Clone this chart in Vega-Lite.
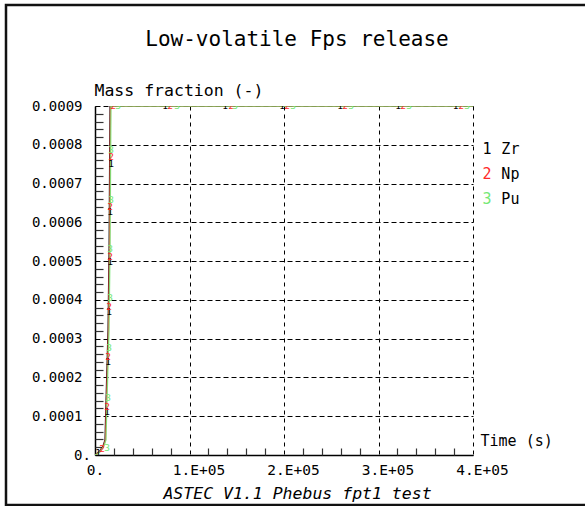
{
  "$schema": "https://vega.github.io/schema/vega-lite/v6.json",
  "autosize": {"type": "none"},
  "width": 378,
  "height": 349,
  "padding": {"left": 95, "top": 106, "right": 112, "bottom": 51},
  "background": "#ffffff",
  "config": {
    "view": {"stroke": null},
    "text": {"font": "DejaVu Sans Mono"}
  },
  "title": {
    "text": "Low-volatile Fps release",
    "anchor": "middle",
    "frame": "group",
    "orient": "top",
    "font": "DejaVu Sans Mono",
    "fontSize": 21,
    "fontWeight": "normal",
    "color": "#000000",
    "baseline": "alphabetic",
    "offset": 0,
    "dx": 13,
    "dy": 63
  },
  "datasets": {
    "frame": [
      {"x1": -94180, "x2": 520000, "y1": 0.0011605, "y2": -0.00012894}
    ],
    "curves": [
      {"series": "Zr", "t": 0, "v": 0},
      {"series": "Zr", "t": 1100, "v": 0.0000026},
      {"series": "Zr", "t": 4200, "v": 0.0000077},
      {"series": "Zr", "t": 8500, "v": 0.0000232},
      {"series": "Zr", "t": 10600, "v": 0.0000387},
      {"series": "Zr", "t": 11700, "v": 0.000142},
      {"series": "Zr", "t": 13800, "v": 0.000322},
      {"series": "Zr", "t": 14900, "v": 0.000529},
      {"series": "Zr", "t": 15900, "v": 0.0009},
      {"series": "Zr", "t": 400000, "v": 0.0009},
      {"series": "Np", "t": 0, "v": 0},
      {"series": "Np", "t": 1600, "v": 0.0000026},
      {"series": "Np", "t": 4700, "v": 0.0000077},
      {"series": "Np", "t": 9000, "v": 0.0000232},
      {"series": "Np", "t": 11100, "v": 0.0000387},
      {"series": "Np", "t": 12200, "v": 0.000142},
      {"series": "Np", "t": 14300, "v": 0.000322},
      {"series": "Np", "t": 15400, "v": 0.000529},
      {"series": "Np", "t": 16400, "v": 0.0009},
      {"series": "Np", "t": 400000, "v": 0.0009},
      {"series": "Pu", "t": 0, "v": 0},
      {"series": "Pu", "t": 2100, "v": 0.0000026},
      {"series": "Pu", "t": 5200, "v": 0.0000077},
      {"series": "Pu", "t": 9500, "v": 0.0000232},
      {"series": "Pu", "t": 11600, "v": 0.0000387},
      {"series": "Pu", "t": 12700, "v": 0.000142},
      {"series": "Pu", "t": 14800, "v": 0.000322},
      {"series": "Pu", "t": 15900, "v": 0.000529},
      {"series": "Pu", "t": 16900, "v": 0.0009},
      {"series": "Pu", "t": 400000, "v": 0.0009}
    ],
    "markers": [
      {"series": "Zr", "label": "1", "t": 3175, "v": 0.0000052},
      {"series": "Zr", "label": "1", "t": 12698, "v": 0.000111},
      {"series": "Zr", "label": "1", "t": 13757, "v": 0.00024},
      {"series": "Zr", "label": "1", "t": 14815, "v": 0.000369},
      {"series": "Zr", "label": "1", "t": 15873, "v": 0.000498},
      {"series": "Zr", "label": "1", "t": 15873, "v": 0.000627},
      {"series": "Zr", "label": "1", "t": 16931, "v": 0.00075},
      {"series": "Zr", "label": "1", "t": 74074, "v": 0.0009},
      {"series": "Zr", "label": "1", "t": 137566, "v": 0.0009},
      {"series": "Zr", "label": "1", "t": 197884, "v": 0.0009},
      {"series": "Zr", "label": "1", "t": 259259, "v": 0.0009},
      {"series": "Zr", "label": "1", "t": 320635, "v": 0.0009},
      {"series": "Zr", "label": "1", "t": 381481, "v": 0.0009},
      {"series": "Np", "label": "2", "t": 7407, "v": 0.0000155},
      {"series": "Np", "label": "2", "t": 12698, "v": 0.000124},
      {"series": "Np", "label": "2", "t": 13757, "v": 0.000253},
      {"series": "Np", "label": "2", "t": 14815, "v": 0.000382},
      {"series": "Np", "label": "2", "t": 15873, "v": 0.000511},
      {"series": "Np", "label": "2", "t": 15873, "v": 0.00064},
      {"series": "Np", "label": "2", "t": 16931, "v": 0.000768},
      {"series": "Np", "label": "2", "t": 19048, "v": 0.0009},
      {"series": "Np", "label": "2", "t": 79365, "v": 0.0009},
      {"series": "Np", "label": "2", "t": 143915, "v": 0.0009},
      {"series": "Np", "label": "2", "t": 203175, "v": 0.0009},
      {"series": "Np", "label": "2", "t": 264550, "v": 0.0009},
      {"series": "Np", "label": "2", "t": 325926, "v": 0.0009},
      {"series": "Np", "label": "2", "t": 387302, "v": 0.0009},
      {"series": "Pu", "label": "3", "t": 12698, "v": 0.0000181},
      {"series": "Pu", "label": "3", "t": 13757, "v": 0.000147},
      {"series": "Pu", "label": "3", "t": 14815, "v": 0.000276},
      {"series": "Pu", "label": "3", "t": 15873, "v": 0.000405},
      {"series": "Pu", "label": "3", "t": 15873, "v": 0.000531},
      {"series": "Pu", "label": "3", "t": 16931, "v": 0.000658},
      {"series": "Pu", "label": "3", "t": 16931, "v": 0.000787},
      {"series": "Pu", "label": "3", "t": 24339, "v": 0.0009},
      {"series": "Pu", "label": "3", "t": 86772, "v": 0.0009},
      {"series": "Pu", "label": "3", "t": 148148, "v": 0.0009},
      {"series": "Pu", "label": "3", "t": 209524, "v": 0.0009},
      {"series": "Pu", "label": "3", "t": 270899, "v": 0.0009},
      {"series": "Pu", "label": "3", "t": 332275, "v": 0.0009},
      {"series": "Pu", "label": "3", "t": 393651, "v": 0.0009}
    ],
    "legend": [
      {"series": "Zr", "num": "1", "name": "Zr", "t": 414815, "tName": 430000, "v": 0.000789},
      {"series": "Np", "num": "2", "name": "Np", "t": 414815, "tName": 430000, "v": 0.000725},
      {"series": "Pu", "num": "3", "name": "Pu", "t": 414815, "tName": 430000, "v": 0.00066}
    ]
  },
  "resolve": {"axis": {"x": "independent", "y": "independent"}},
  "layer": [
    {
      "data": {"name": "frame"},
      "mark": {"type": "rect", "filled": false, "stroke": "#111111", "strokeWidth": 2.5, "clip": false},
      "encoding": {
        "x": {"field": "x1", "type": "quantitative", "scale": {"domain": [0, 400000], "nice": false, "zero": false}, "axis": null},
        "x2": {"field": "x2"},
        "y": {"field": "y1", "type": "quantitative", "scale": {"domain": [0, 0.0009], "nice": false, "zero": false}, "axis": null},
        "y2": {"field": "y2"}
      }
    },
    {
      "data": {"name": "curves"},
      "mark": {"type": "line", "strokeWidth": 1.3, "opacity": 0.85, "clip": true},
      "encoding": {
        "x": {
          "field": "t", "type": "quantitative",
          "scale": {"domain": [0, 400000], "nice": false, "zero": false},
          "axis": {
            "orient": "bottom",
            "values": [0, 100000, 200000, 300000, 400000],
            "grid": true, "gridColor": "#000000", "gridDash": [4, 4], "gridWidth": 1, "gridOpacity": 1,
            "ticks": false,
            "domain": true, "domainColor": "#000000", "domainWidth": 1.5,
            "labelExpr": "datum.value == 0 ? '0.' : (datum.value / 100000) + '.E+05'",
            "labelFont": "DejaVu Sans Mono", "labelFontSize": 14.5, "labelColor": "#000000",
            "labelAlign": "center", "labelBaseline": "alphabetic", "labelPadding": 19,
            "labelOffset": {"condition": {"test": "datum.value == 0", "value": 0}, "value": 9},
            "labelFlush": false, "labelOverlap": false, "labelBound": false,
            "title": "ASTEC V1.1 Phebus fpt1 test",
            "titleFont": "DejaVu Sans Mono", "titleFontStyle": "italic", "titleFontSize": 16.5, "titleFontWeight": "normal",
            "titleColor": "#000000", "titleX": 202, "titleY": 43, "titleAlign": "center", "titleBaseline": "alphabetic"
          }
        },
        "y": {
          "field": "v", "type": "quantitative",
          "scale": {"domain": [0, 0.0009], "nice": false, "zero": false},
          "axis": {
            "orient": "left",
            "values": [0, 0.0001, 0.0002, 0.0003, 0.0004, 0.0005, 0.0006, 0.0007, 0.0008, 0.0009],
            "grid": true, "gridColor": "#000000", "gridDash": [5, 3], "gridWidth": 1, "gridOpacity": 1,
            "ticks": false,
            "domain": true, "domainColor": "#000000", "domainWidth": 1.5,
            "labelExpr": "datum.value == 0 ? '0.' : format(datum.value, '.4f')",
            "labelFont": "DejaVu Sans Mono", "labelFontSize": 14, "labelColor": "#000000",
            "labelAlign": {"condition": {"test": "datum.value == 0", "value": "center"}, "value": "right"},
            "labelBaseline": "middle", "labelPadding": 13,
            "labelFlush": false, "labelOverlap": false, "labelBound": false,
            "title": "Mass fraction (-)",
            "titleFont": "DejaVu Sans Mono", "titleFontSize": 16.5, "titleFontWeight": "normal", "titleColor": "#000000",
            "titleAngle": 0, "titleAlign": "left", "titleBaseline": "alphabetic", "titleX": -1, "titleY": -11
          }
        },
        "color": {
          "field": "series", "type": "nominal",
          "scale": {"domain": ["Zr", "Np", "Pu"], "range": ["#000000", "#ff2a2a", "#74e874"]},
          "legend": null
        }
      }
    },
    {
      "data": {"name": "markers"},
      "mark": {"type": "text", "font": "DejaVu Sans Mono", "fontSize": 9.5, "align": "center", "baseline": "middle", "clip": true},
      "encoding": {
        "x": {
          "field": "t", "type": "quantitative",
          "scale": {"domain": [0, 400000], "nice": false, "zero": false},
          "axis": {
            "orient": "bottom",
            "values": [20000, 40000, 60000, 80000, 120000, 140000, 160000, 180000, 220000, 240000, 260000, 280000, 320000, 340000, 360000, 380000],
            "grid": false, "labels": false, "domain": false,
            "ticks": true, "tickSize": -7, "tickColor": "#333333", "tickWidth": 1.2,
            "title": "Time (s)",
            "titleFont": "DejaVu Sans Mono", "titleFontSize": 15, "titleFontWeight": "normal", "titleColor": "#000000",
            "titleX": 385, "titleY": -10, "titleAlign": "left", "titleBaseline": "alphabetic", "titleAngle": 0
          }
        },
        "y": {
          "field": "v", "type": "quantitative",
          "scale": {"domain": [0, 0.0009], "nice": false, "zero": false},
          "axis": {
            "orient": "left",
            "values": [0.00002, 0.00004, 0.00006, 0.00008, 0.00012, 0.00014, 0.00016, 0.00018, 0.00022, 0.00024, 0.00026, 0.00028, 0.00032, 0.00034, 0.00036, 0.00038, 0.00042, 0.00044, 0.00046, 0.00048, 0.00052, 0.00054, 0.00056, 0.00058, 0.00062, 0.00064, 0.00066, 0.00068, 0.00072, 0.00074, 0.00076, 0.00078, 0.00082, 0.00084, 0.00086, 0.00088],
            "grid": false, "labels": false, "domain": false,
            "ticks": true, "tickSize": -8, "tickColor": "#333333", "tickWidth": 1.2,
            "title": null
          }
        },
        "text": {"field": "label", "type": "nominal"},
        "color": {
          "field": "series", "type": "nominal",
          "scale": {"domain": ["Zr", "Np", "Pu"], "range": ["#000000", "#ff2a2a", "#74e874"]},
          "legend": null
        }
      }
    },
    {
      "data": {"name": "legend"},
      "mark": {"type": "text", "font": "DejaVu Sans Mono", "fontSize": 15, "align": "center", "baseline": "middle", "clip": false},
      "encoding": {
        "x": {"field": "t", "type": "quantitative", "scale": {"domain": [0, 400000], "nice": false, "zero": false}, "axis": null},
        "y": {"field": "v", "type": "quantitative", "scale": {"domain": [0, 0.0009], "nice": false, "zero": false}, "axis": null},
        "text": {"field": "num", "type": "nominal"},
        "color": {
          "field": "series", "type": "nominal",
          "scale": {"domain": ["Zr", "Np", "Pu"], "range": ["#000000", "#ff2a2a", "#74e874"]},
          "legend": null
        }
      }
    },
    {
      "data": {"name": "legend"},
      "mark": {"type": "text", "font": "DejaVu Sans Mono", "fontSize": 15, "align": "left", "baseline": "middle", "color": "#000000", "clip": false},
      "encoding": {
        "x": {"field": "tName", "type": "quantitative", "scale": {"domain": [0, 400000], "nice": false, "zero": false}, "axis": null},
        "y": {"field": "v", "type": "quantitative", "scale": {"domain": [0, 0.0009], "nice": false, "zero": false}, "axis": null},
        "text": {"field": "name", "type": "nominal"}
      }
    }
  ]
}
